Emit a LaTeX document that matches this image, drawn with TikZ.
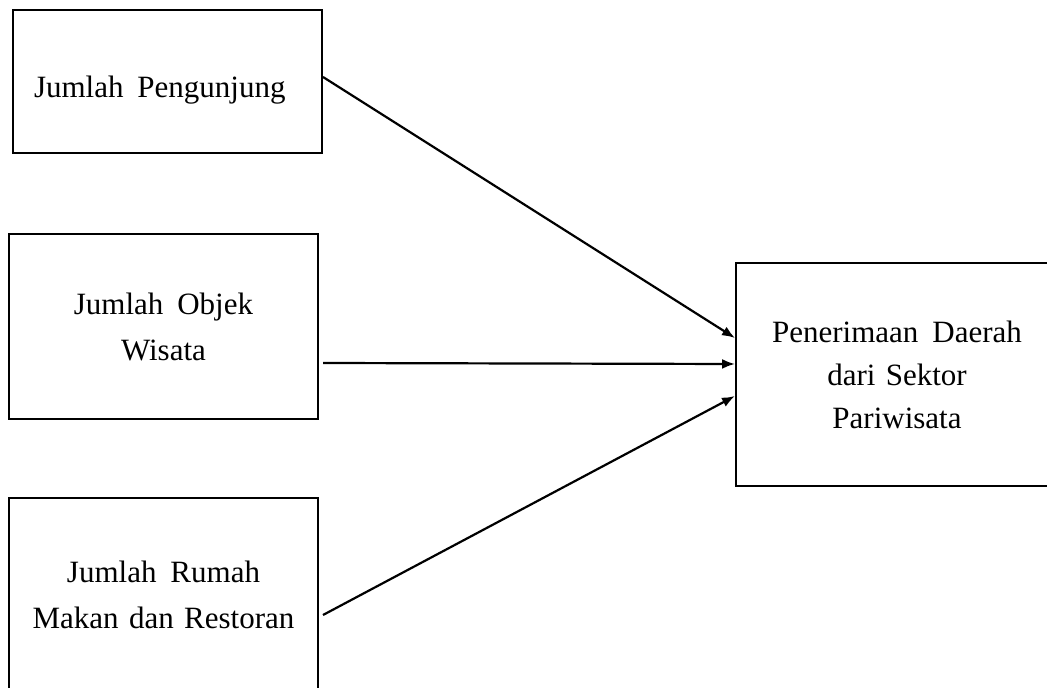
\documentclass[tikz,border=0pt]{standalone}
\usepackage{fontspec}
\setmainfont{Liberation Serif}
\usetikzlibrary{arrows.meta}

\tikzset{
    varbox/.style={draw, line width=1pt, inner xsep=10.5pt, text width=133.5pt,
        align=center, font=\fontsize{15.5}{23}\selectfont},
}
\newcommand{\wgap}{\hspace{0.45em}}

\begin{document}
\begin{tikzpicture}[x=0.5pt,y=-0.5pt,line width=1.1pt,>={Latex[length=6.5pt,width=5pt]}]
        % fix the frame, the lower and right boxes run past it
        \useasboundingbox (0,0) rectangle (1047,688);
        \clip (0,0) rectangle (1047,688);

        % draw the three input boxes
        \node[varbox, align=left, minimum height=71.5pt, text height=20pt, text depth=3.5pt]
            (pengunjung) at (167.5,81.5) {Jumlah\wgap Pengunjung};
        \node[varbox, minimum height=92.5pt] (objek) at (163.5,326.5) {Jumlah\wgap Objek\\Wisata};
        \node[varbox, minimum height=97pt] (rumah) at (163.5,595) {Jumlah\wgap Rumah\\Makan dan Restoran};

        % draw the target box
        \node[varbox, text width=140pt, minimum height=111.5pt, font=\fontsize{15.5}{21.5}\selectfont]
            (penerimaan) at (897,374.5) {Penerimaan\wgap Daerah\\dari Sektor\\Pariwisata};

        % arrows from each input to the target
        \foreach \src/\sx/\sy/\dy in {
            pengunjung/0/-4.5/-36.5,
            objek/4/36.5/-10.5,
            rumah/4/20/21.5}
                \draw[->] ([shift={(\sx,\sy)}]\src.east) -- ([shift={(0,\dy)}]penerimaan.west);
\end{tikzpicture}
\end{document}
